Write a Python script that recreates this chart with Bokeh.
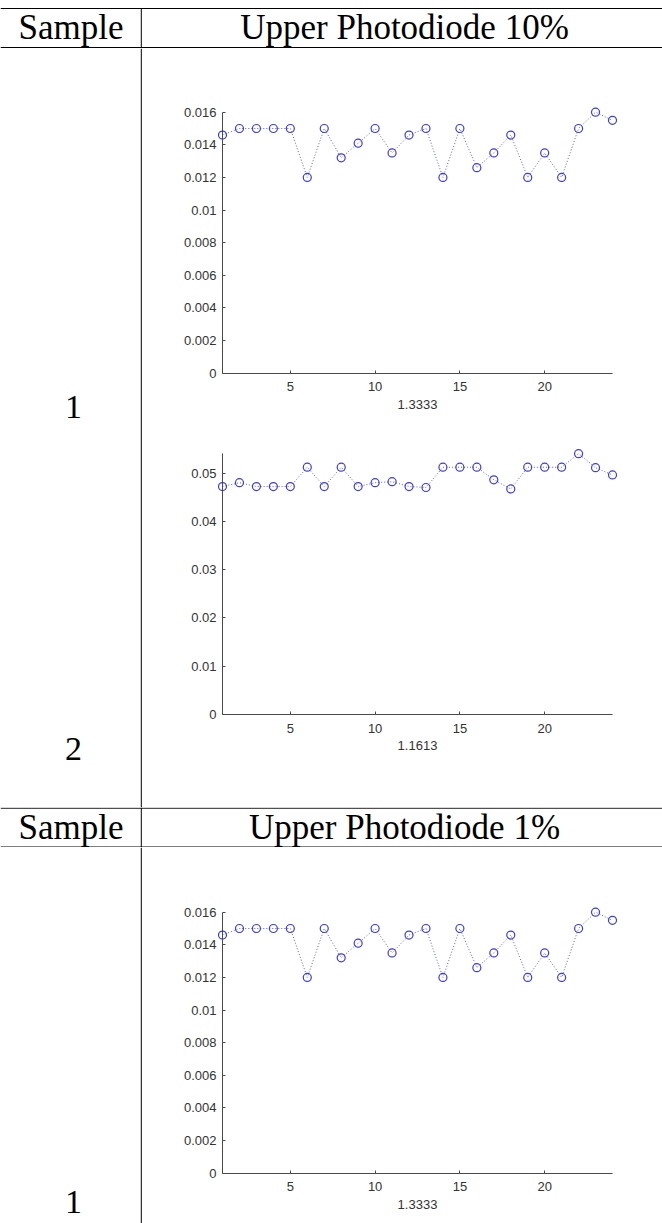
from bokeh.plotting import figure
from bokeh.layouts import column, row
from bokeh.models import Range1d, FixedTicker, ColumnDataSource
from bokeh.core.properties import value
from bokeh.embed import file_html
from bokeh.resources import INLINE

# ---------------- data ----------------
sample_index = list(range(1, 25))

upper10_sample1 = [0.0146, 0.0150, 0.0150, 0.0150, 0.0150, 0.0120, 0.0150, 0.0132,
                   0.0141, 0.0150, 0.0135, 0.0146, 0.0150, 0.0120, 0.0150, 0.0126,
                   0.0135, 0.0146, 0.0120, 0.0135, 0.0120, 0.0150, 0.0160, 0.0155]
upper10_sample2 = [0.0472, 0.0480, 0.0472, 0.0472, 0.0472, 0.0512, 0.0472, 0.0512,
                   0.0472, 0.0480, 0.0482, 0.0472, 0.0470, 0.0512, 0.0512, 0.0512,
                   0.0486, 0.0467, 0.0512, 0.0512, 0.0512, 0.0540, 0.0511, 0.0496]
upper1_sample1 = [0.0146, 0.0150, 0.0150, 0.0150, 0.0150, 0.0120, 0.0150, 0.0132,
                  0.0141, 0.0150, 0.0135, 0.0146, 0.0150, 0.0120, 0.0150, 0.0126,
                  0.0135, 0.0146, 0.0120, 0.0135, 0.0120, 0.0150, 0.0160, 0.0155]

xtick_vals = [5, 10, 15, 20]
ytick_vals_small = [0, 0.002, 0.004, 0.006, 0.008, 0.01, 0.012, 0.014, 0.016]
ytick_labels_small = ["0", "0.002", "0.004", "0.006", "0.008", "0.01", "0.012", "0.014", "0.016"]
ytick_vals_large = [0, 0.01, 0.02, 0.03, 0.04, 0.05]
ytick_labels_large = ["0", "0.01", "0.02", "0.03", "0.04", "0.05"]

xlabels = ["1.3333", "1.1613", "1.3333"]
header_titles = ["Upper Photodiode 10%", "Upper Photodiode 1%"]
col_header = "Sample"
row_labels_block1 = ["1", "2"]
row_labels_block2 = ["1"]

# ---------------- layout constants (pixels) ----------------
W = 662
LEFT_W = 142
RIGHT_W = W - LEFT_W
DIV_X = 140.8
SERIF = value("Liberation Serif")
SANS = "Liberation Sans"
TXT = "#333333"
AX = "#4a4a4a"
BLUE_M = "#3a3ae6"
BLUE_L = "#5a5aee"

AXIS_X0 = 80           # pixel (inside plot figure) of the first sample / y axis
AXIS_X1 = 470          # pixel of the last sample


def table_fig(width, height):
    p = figure(width=width, height=height, x_range=Range1d(0, width),
               y_range=Range1d(height, 0), output_backend="svg",
               toolbar_location=None, x_axis_location=None, y_axis_location=None,
               min_border=0)
    p.grid.visible = False
    p.outline_line_color = None
    return p


def header_fig(height, top_line, title, vline_from):
    p = table_fig(W, height)
    p.line(x=[0, W], y=[top_line, top_line], line_color="black", line_width=1)
    p.line(x=[0, W], y=[top_line + 39, top_line + 39], line_color="black", line_width=1.2)
    p.line(x=[DIV_X, DIV_X], y=[vline_from, height], line_color="black", line_width=1)
    mid = top_line + 19
    src = ColumnDataSource(dict(x=[70.5, 404], y=[mid, mid], t=[col_header, title]))
    p.text(x="x", y="y", text="t", source=src, text_font=SERIF, text_font_size="35px",
           text_align="center", text_baseline="middle", text_color="black")
    return p


def left_fig(height, labels, ys):
    p = table_fig(LEFT_W, height)
    p.line(x=[DIV_X, DIV_X], y=[0, height], line_color="black", line_width=1)
    src = ColumnDataSource(dict(x=[73] * len(labels), y=ys, t=labels))
    p.text(x="x", y="y", text="t", source=src, text_font=SERIF, text_font_size="34px",
           text_align="center", text_baseline="middle", text_color="black")
    return p


def data_fig(height, y_zero_px, y_top_px, ys, tick_vals, tick_labels, xlabel):
    top = max(ys)
    x0, x1 = sample_index[0], sample_index[-1]
    ppx = (AXIS_X1 - AXIS_X0) / (x1 - x0)
    ppy = (y_zero_px - y_top_px) / top
    xr = Range1d(x0 - AXIS_X0 / ppx, x0 + (RIGHT_W - AXIS_X0) / ppx)
    yr = Range1d(-(height - y_zero_px) / ppy, top + y_top_px / ppy)
    p = figure(width=RIGHT_W, height=height, x_range=xr, y_range=yr,
               output_backend="svg", toolbar_location=None, min_border=0)
    p.grid.visible = False
    p.outline_line_color = None
    src = ColumnDataSource(dict(x=sample_index, y=ys))
    p.line(x="x", y="y", source=src, line_color=BLUE_L, line_width=1, line_dash="1 2")
    p.scatter(x="x", y="y", source=src, marker="circle", size=8, fill_color=None,
              line_color=BLUE_M, line_width=1.2)

    p.xaxis.fixed_location = 0
    p.xaxis.bounds = (x0, x1)
    p.xaxis.ticker = FixedTicker(ticks=xtick_vals)
    p.xaxis.axis_label = xlabel
    p.xaxis.axis_label_standoff = 5
    p.xaxis.major_label_standoff = 9

    p.yaxis.fixed_location = x0
    p.yaxis.bounds = (0, top)
    p.yaxis.ticker = FixedTicker(ticks=tick_vals)
    p.yaxis.major_label_overrides = dict(zip(tick_vals, tick_labels))
    p.yaxis.major_label_standoff = 6

    for ax in (p.xaxis, p.yaxis):
        ax.axis_line_color = AX
        ax.axis_line_width = 1
        ax.major_tick_line_color = AX
        ax.major_tick_in = 3
        ax.major_tick_out = 0
        ax.minor_tick_line_color = None
        ax.major_label_text_font = SANS
        ax.major_label_text_font_size = "13px"
        ax.major_label_text_color = TXT
        ax.axis_label_text_font = SANS
        ax.axis_label_text_font_size = "13px"
        ax.axis_label_text_font_style = "normal"
        ax.axis_label_text_color = TXT
    return p


# block heights: 48 + 759 + 40 + 376 = 1223 (page origin at top-left)
header1 = header_fig(48, 8.0, header_titles[0], 8.0)
plot1 = data_fig(382, 324.6, 63.7, upper10_sample1, ytick_vals_small, ytick_labels_small, xlabels[0])
plot2 = data_fig(377, 284.0, 23.2, upper10_sample2, ytick_vals_large, ytick_labels_large, xlabels[1])
left1 = left_fig(759, row_labels_block1, [358, 700])

header2 = header_fig(40, 0.7, header_titles[1], 0)
plot3 = data_fig(376, 325.6, 64.7, upper1_sample1, ytick_vals_small, ytick_labels_small, xlabels[2])
left2 = left_fig(376, row_labels_block2, [354])

layout = column(
    header1,
    row(left1, column(plot1, plot2)),
    header2,
    row(left2, column(plot3)),
)

open("out.html", "w").write(file_html(layout, INLINE))
